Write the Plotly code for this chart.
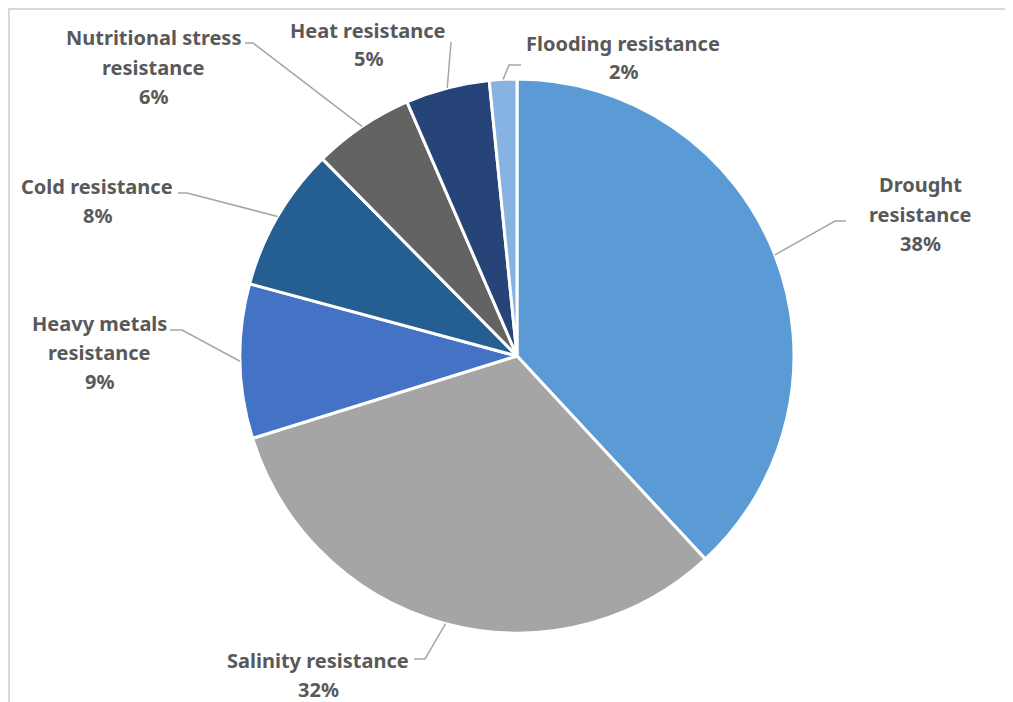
import math
import plotly.graph_objects as go

# ---- data ----
categories = ["Drought resistance", "Salinity resistance", "Heavy metals resistance",
              "Cold resistance", "Nutritional stress resistance", "Heat resistance",
              "Flooding resistance"]
values = [38.1, 32.1, 9.0, 8.4, 5.9, 4.9, 1.6]
label_lines = [["Drought", "resistance"], ["Salinity resistance"], ["Heavy metals", "resistance"],
               ["Cold resistance"], ["Nutritional stress", "resistance"], ["Heat resistance"],
               ["Flooding resistance"]]
colors = ["#5B9BD5", "#A5A5A5", "#4472C4", "#255E91", "#636363", "#264478", "#86B3E2"]

# ---- layout (page-pixel geometry; the page body adds an 8px offset) ----
OFF = 8
W, H = 1013 - OFF, 702 - OFF
CX, CY, R = 517, 356, 277
# label block: (center x, y of first line), leader elbow (x, y), leader end x
label_pos = [
    ((920, 185), (835, 221), 846),
    ((318, 660), (425, 659), 414),
    ((99, 323), (182, 330), 170),
    ((97, 187), (187, 193), 178),
    ((153, 38), (253, 43), 245),
    ((368, 30), (451, 42), None),
    ((623, 43), (509, 65), 521),
]
LINE_H = 29
TEXT_COLOR = "#595959"
LEADER = "#A6A6A6"

def px(x):
    return (x - OFF) / W

def py(y):
    return 1 - (y - OFF) / H

fig = go.Figure(go.Pie(
    labels=categories, values=values, sort=False, direction="clockwise", rotation=0,
    marker=dict(colors=colors, line=dict(color="white", width=3)),
    textinfo="none", hoverinfo="label+percent", showlegend=False,
    domain=dict(x=[px(CX - R), px(CX + R)], y=[py(CY + R), py(CY - R)]),
))

total = sum(values)
cum = 0.0
annotations = []
shapes = []
for i, v in enumerate(values):
    mid = (cum + v / 2) / total * 2 * math.pi
    cum += v
    ax = CX + R * math.sin(mid)
    ay = CY - R * math.cos(mid)
    (lx, ly), (ex, ey), endx = label_pos[i]
    pct = f"{round(v / total * 100):d}%"
    lines = label_lines[i] + [pct]
    for k, t in enumerate(lines):
        annotations.append(dict(
            x=px(lx), y=py(ly + k * LINE_H), xref="paper", yref="paper",
            text=f"<b>{t}</b>", showarrow=False, xanchor="center", yanchor="middle",
            font=dict(family="Noto Sans", size=20, color=TEXT_COLOR)))
    path = f"M {px(ax)} {py(ay)} L {px(ex)} {py(ey)}"
    if endx is not None:
        path += f" L {px(endx)} {py(ey)}"
    shapes.append(dict(type="path", xref="paper", yref="paper", path=path,
                       line=dict(color=LEADER, width=1.5)))

# outer frame (top and left edges only are visible in the reference)
shapes.append(dict(type="path", xref="paper", yref="paper",
                   path=f"M {px(9)} {py(720)} L {px(9)} {py(9)} L {px(1020)} {py(9)}",
                   line=dict(color="#D9D9D9", width=2)))

fig.update_layout(
    width=W, height=H, margin=dict(l=0, r=0, t=0, b=0),
    paper_bgcolor="white", plot_bgcolor="white",
    annotations=annotations, shapes=shapes,
)

fig.write_html(
    "out.html",
    post_script="document.documentElement.style.overflow='hidden';"
                "document.body.style.overflow='hidden';",
)
